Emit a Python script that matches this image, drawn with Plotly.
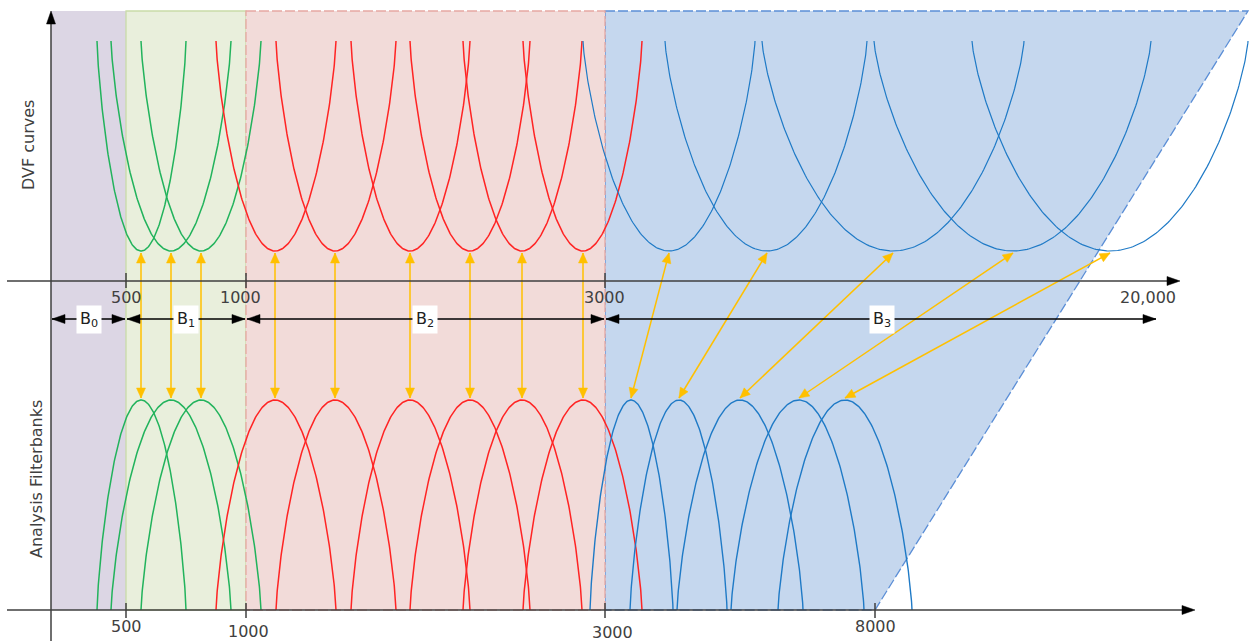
import numpy as np
import plotly.graph_objects as go

W, H = 1251, 641

# ---------------- data (diagram units = pixels of the drawing) ----------------
band_names = ["B<sub>0</sub>", "B<sub>1</sub>", "B<sub>2</sub>", "B<sub>3</sub>"]
band_left = [51, 126, 246, 605]
band_right = [126, 246, 605, 1157]
band_label_x = [89, 186, 425, 882]

top_tick_labels = ["500", "1000", "3000", "20,000"]
top_tick_x = [126, 246, 605]
top_label_x = [126, 240, 604, 1148]
bottom_tick_labels = ["500", "1000", "3000", "8000"]
bottom_tick_x = [126, 246, 605, 875]
bottom_label_x = [126, 248, 612, 875]

# analysis filterbank arches (bottom) and DVF curves (top) - centre / left foot / right foot
green_center = [141, 171, 201]
green_left = [97, 111, 141]
green_right = [186, 231, 261]
red_center = [275, 335, 410, 470, 522, 583]
red_left = [216, 276, 351, 410, 463, 523]
red_right = [336, 396, 470, 530, 582, 642]
blue_fb_center = [631, 679, 740, 799, 845]
blue_fb_left = [590, 630, 677, 731, 778]
blue_fb_right = [673, 727, 803, 864, 912]
blue_dvf_center = [669, 767, 893, 1013, 1110]
blue_dvf_left = [583, 665, 762, 874, 972]
blue_dvf_right = [755, 867, 1024, 1151, 1248]

# ---------------- geometry / style ----------------
Y_TOP = 11
Y_DVF_TOP = 41
Y_DVF_BOT = 251
Y_AX1 = 281
Y_BAND = 319
Y_FB_PEAK = 400
Y_AX2 = 610
AXC = "#3f3f3f"
TXT = "#404040"
GREEN, RED, BLUE, ORANGE = "#22b35c", "#ff2424", "#1f7ac6", "#ffc000"
FONT = "DejaVu Sans"


def shape_s(c, l, r, n=200):
    t = np.linspace(-np.pi / 2, np.pi / 2, n)
    u = np.sin(t)
    x = np.where(u < 0, c + u * (c - l), c + u * (r - c))
    s = np.clip(1 - u ** 2, 0, None) ** 0.75
    return x, s


def curves(cs, ls, rs, top):
    xs, ys = [], []
    for c, l, r in zip(cs, ls, rs):
        x, s = shape_s(c, l, r)
        if top:
            y = Y_DVF_TOP + (Y_DVF_BOT - Y_DVF_TOP) * s
        else:
            y = Y_AX2 - (Y_AX2 - Y_FB_PEAK) * s
        xs += list(x) + [None]
        ys += list(y) + [None]
    return xs, ys


def head(tip, tail, L, w):
    tip = np.array(tip, float)
    tail = np.array(tail, float)
    d = tip - tail
    d /= np.linalg.norm(d)
    n = np.array([-d[1], d[0]])
    b = tip - d * L
    p1, p2 = b + n * w, b - n * w
    return [tip[0], p1[0], p2[0], tip[0], None], [tip[1], p1[1], p2[1], tip[1], None]


fig = go.Figure()

# bands
shapes = [
    dict(type="rect", x0=band_left[0], x1=band_right[0], y0=Y_TOP, y1=Y_AX2,
         fillcolor="#dcd6e4", line=dict(width=0), layer="below"),
    dict(type="rect", x0=band_left[1], x1=band_right[1], y0=Y_TOP, y1=Y_AX2,
         fillcolor="#e9efdc", line=dict(color="#c9dba8", width=1.3), layer="below"),
    dict(type="path",
         path=f"M{band_left[3]},{Y_TOP} L1248,{Y_TOP} L{bottom_tick_x[3]},{Y_AX2} L{band_left[3]},{Y_AX2} Z",
         fillcolor="#c5d7ee", line=dict(color="#5b8ed6", width=1.3, dash="10px,3px"), layer="below"),
    dict(type="rect", x0=band_left[2], x1=band_left[3], y0=Y_TOP, y1=Y_AX2,
         fillcolor="#f2dbd9", line=dict(color="#e6a8a2", width=1.3, dash="10px,3px"), layer="below"),
]

# curves
for cs, ls, rs, col, wd in [
    (green_center, green_left, green_right, GREEN, 1.5),
    (red_center, red_left, red_right, RED, 1.5),
]:
    for top in (True, False):
        x, y = curves(cs, ls, rs, top)
        fig.add_trace(go.Scatter(x=x, y=y, mode="lines", line=dict(color=col, width=wd),
                                 hoverinfo="skip", showlegend=False))
x, y = curves(blue_dvf_center, blue_dvf_left, blue_dvf_right, True)
fig.add_trace(go.Scatter(x=x, y=y, mode="lines", line=dict(color=BLUE, width=1.2),
                         hoverinfo="skip", showlegend=False))
x, y = curves(blue_fb_center, blue_fb_left, blue_fb_right, False)
fig.add_trace(go.Scatter(x=x, y=y, mode="lines", line=dict(color=BLUE, width=1.4),
                         hoverinfo="skip", showlegend=False))

# orange correspondence arrows
pairs = [(c, c) for c in green_center + red_center] + list(zip(blue_dvf_center, blue_fb_center))
lx, ly, hx, hy = [], [], [], []
for xt, xb in pairs:
    a, b = (xt, Y_DVF_BOT + 2), (xb, Y_FB_PEAK - 2)
    lx += [a[0], b[0], None]
    ly += [a[1], b[1], None]
    for tip, tail in ((a, b), (b, a)):
        px, py = head(tip, tail, 10, 4.5)
        hx += px
        hy += py
fig.add_trace(go.Scatter(x=lx, y=ly, mode="lines", line=dict(color=ORANGE, width=1.5),
                         hoverinfo="skip", showlegend=False))
fig.add_trace(go.Scatter(x=hx, y=hy, mode="lines", fill="toself", fillcolor=ORANGE,
                         line=dict(color=ORANGE, width=0.5), hoverinfo="skip", showlegend=False))

# band double arrows
lx, ly, hx, hy = [], [], [], []
for l, r in zip(band_left, band_right):
    a, b = (l + 1, Y_BAND), (r - 1, Y_BAND)
    lx += [a[0], b[0], None]
    ly += [a[1], b[1], None]
    for tip, tail in ((a, b), (b, a)):
        px, py = head(tip, tail, 13, 4.5)
        hx += px
        hy += py
fig.add_trace(go.Scatter(x=lx, y=ly, mode="lines", line=dict(color="#000000", width=1.5),
                         hoverinfo="skip", showlegend=False))
fig.add_trace(go.Scatter(x=hx, y=hy, mode="lines", fill="toself", fillcolor="#000000",
                         line=dict(color="#000000", width=0.5), hoverinfo="skip", showlegend=False))

# axes
ax_x = [7, 1167, None, 7, 1182, None, band_left[0], band_left[0]]
ax_y = [Y_AX1, Y_AX1, None, Y_AX2, Y_AX2, None, 24, H]
for t in top_tick_x:
    ax_x += [None, t, t]
    ax_y += [None, Y_AX1 - 8, Y_AX1 + 7]
for t in bottom_tick_x:
    ax_x += [None, t, t]
    ax_y += [None, Y_AX2 - 7, Y_AX2 + 8]
fig.add_trace(go.Scatter(x=ax_x, y=ax_y, mode="lines", line=dict(color=AXC, width=1.5),
                         hoverinfo="skip", showlegend=False))
hx, hy = [], []
for tip, tail in (((1180, Y_AX1), (0, Y_AX1)), ((1195, Y_AX2), (0, Y_AX2)),
                  ((band_left[0], 11), (band_left[0], 100))):
    px, py = head(tip, tail, 13, 4.5)
    hx += px
    hy += py
fig.add_trace(go.Scatter(x=hx, y=hy, mode="lines", fill="toself", fillcolor="#000000",
                         line=dict(color="#000000", width=0.5), hoverinfo="skip", showlegend=False))

ann = []
for lab, x in zip(top_tick_labels, top_label_x):
    ann.append(dict(x=x, y=297, text=lab, showarrow=False, font=dict(family=FONT, size=16, color=TXT)))
for lab, x, y in zip(bottom_tick_labels, bottom_label_x, [626, 631, 632, 626]):
    ann.append(dict(x=x, y=y, text=lab, showarrow=False, font=dict(family=FONT, size=16, color=TXT)))
for lab, x in zip(band_names, band_label_x):
    ann.append(dict(x=x, y=Y_BAND, text=lab, showarrow=False, bgcolor="#ffffff", borderpad=3,
                    font=dict(family=FONT, size=16, color="#202020")))
ann.append(dict(x=28, y=145, text="DVF curves", textangle=-90, showarrow=False,
                font=dict(family=FONT, size=16, color=TXT)))
ann.append(dict(x=36, y=479, text="Analysis Filterbanks", textangle=-90, showarrow=False,
                font=dict(family=FONT, size=16, color=TXT)))

fig.update_layout(
    width=W, height=H, margin=dict(l=0, r=0, t=0, b=0),
    paper_bgcolor="#ffffff", plot_bgcolor="#ffffff",
    xaxis=dict(range=[0, W], visible=False, fixedrange=True),
    yaxis=dict(range=[H, 0], visible=False, fixedrange=True),
    shapes=shapes, annotations=ann, showlegend=False,
)
fig.write_html("out.html")
